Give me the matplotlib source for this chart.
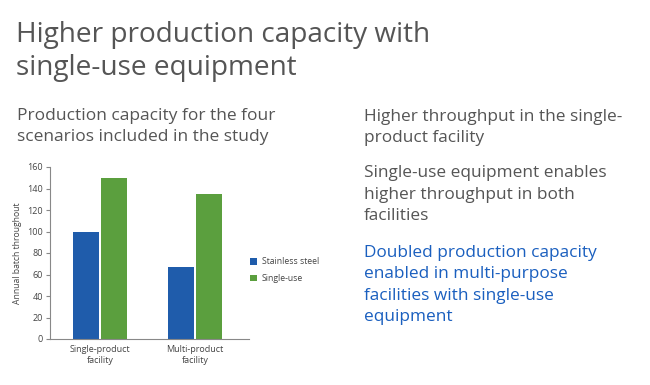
import numpy as np
import matplotlib
matplotlib.use("Agg")
import matplotlib.pyplot as plt

# data
categories = ["Single-product\nfacility", "Multi-product\nfacility"]
stainless = [100, 67]
single_use = [150, 135]
series_names = ["Stainless steel", "Single-use"]
y_ticks = [0, 20, 40, 60, 80, 100, 120, 140, 160]

BLUE = "#1f5cab"
GREEN = "#5b9f3e"
GREY = "#555555"
TEXT_BLUE = "#1a5fbf"

plt.rcParams["font.family"] = ["Open Sans", "DejaVu Sans"]

W, H = 650, 385
fig = plt.figure(figsize=(6.5, 3.85), dpi=100)

def px(x, y):
    return x / W, 1 - y / H

# y given is the baseline of the LAST line of each block
# headline
fig.text(*px(16, 75), "Higher production capacity with\nsingle-use equipment",
         fontsize=20.2, color=GREY, va="baseline", ha="left", linespacing=1.26)

# left sub heading
fig.text(*px(17, 141), "Production capacity for the four\nscenarios included in the study",
         fontsize=12.5, color=GREY, va="baseline", ha="left", linespacing=1.38)

# right column
fig.text(*px(364, 142), "Higher throughput in the single-\nproduct facility",
         fontsize=12.4, color=GREY, va="baseline", ha="left", linespacing=1.45)
fig.text(*px(364, 220), "Single-use equipment enables\nhigher throughput in both\nfacilities",
         fontsize=12.4, color=GREY, va="baseline", ha="left", linespacing=1.45)
fig.text(*px(364, 321), "Doubled production capacity\nenabled in multi-purpose\nfacilities with single-use\nequipment",
         fontsize=12.4, color=TEXT_BLUE, va="baseline", ha="left", linespacing=1.45)

# chart
l, t, r, b = 50, 167, 249, 339
ax = fig.add_axes([l / W, 1 - b / H, (r - l) / W, (b - t) / H])
x = np.arange(len(categories))
w = 0.265
ax.bar(x - w / 2 - 0.015, stainless, w, color=BLUE, label=series_names[0])
ax.bar(x + w / 2 + 0.015, single_use, w, color=GREEN, label=series_names[1])
ax.set_xlim(-0.526, 1.568)
ax.set_ylim(0, 160)
ax.set_yticks(y_ticks)
ax.set_xticks(x)
ax.set_xticklabels(categories, fontsize=6.5, color="#444444", linespacing=1.3)
ax.tick_params(axis="y", labelsize=6.5, labelcolor="#444444", length=3, color="#888888", pad=2)
ax.tick_params(axis="x", length=0, pad=4)
for s in ["top", "right"]:
    ax.spines[s].set_visible(False)
for s in ["left", "bottom"]:
    ax.spines[s].set_color("#888888")
    ax.spines[s].set_linewidth(0.8)
ax.set_ylabel("Annual batch throughout", fontsize=6.2, color="#444444", labelpad=4)

leg = ax.legend(loc="center left", bbox_to_anchor=(0.965, 0.4), frameon=False,
                fontsize=6.2, handlelength=0.8, handleheight=0.8, handletextpad=0.6,
                labelspacing=0.9)
for txt in leg.get_texts():
    txt.set_color("#444444")

fig.savefig("out.png", dpi=100)
